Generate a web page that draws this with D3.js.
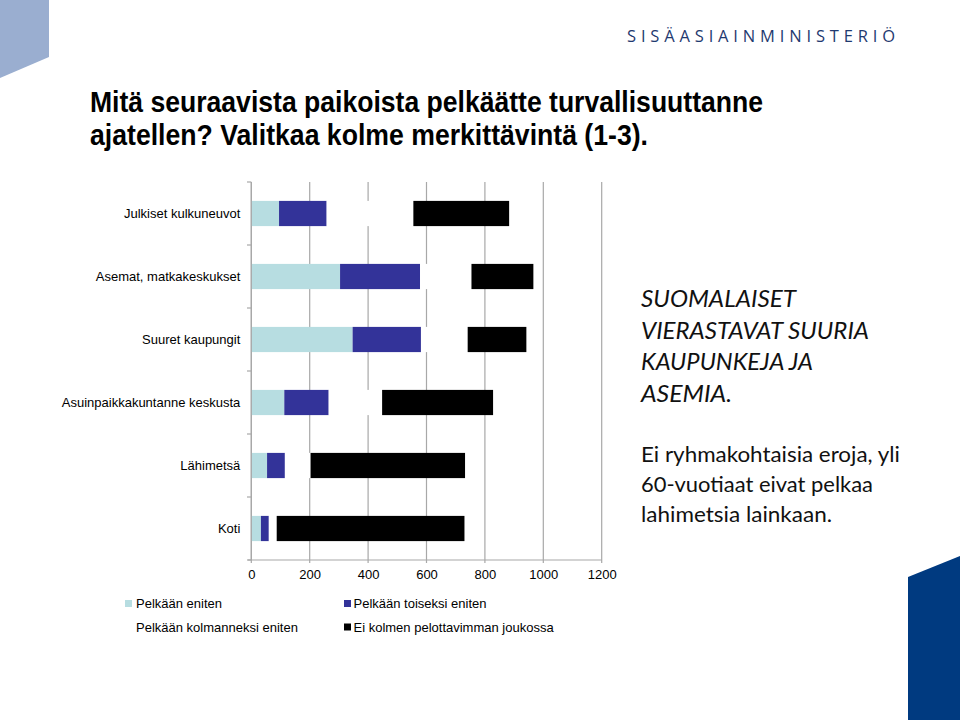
<!DOCTYPE html>
<html><head><meta charset="utf-8">
<script src="https://cdn.jsdelivr.net/npm/d3@7"></script>
<style>body{margin:0;background:#fff}svg{display:block}</style>
</head><body><svg id="c" width="960" height="720"></svg>
<script>
// ---- data ----
const categories = ["Julkiset kulkuneuvot","Asemat, matkakeskukset","Suuret kaupungit","Asuinpaikkakuntanne keskusta","Lähimetsä","Koti"];
const pelkaanEniten      = [95, 304, 347, 113, 54, 33];
const pelkaanToiseksi    = [163, 274, 234, 152, 61, 27];
const pelkaanKolmanneksi = [297, 176, 160, 183, 88, 27];
const eiKolmenJoukossa   = [328, 212, 201, 380, 529, 643];
const xTicks = [0, 200, 400, 600, 800, 1000, 1200];
const seriesNames = ["Pelkään eniten","Pelkään toiseksi eniten","Pelkään kolmanneksi eniten","Ei kolmen pelottavimman joukossa"];
const seriesColors = ["#b7dde1","#333399","#ffffff","#000000"];
const titleLines = ["Mitä seuraavista paikoista pelkäätte turvallisuuttanne","ajatellen? Valitkaa kolme merkittävintä (1-3)."];
const note1 = ["SUOMALAISET","VIERASTAVAT SUURIA","KAUPUNKEJA JA","ASEMIA."];
const note2 = ["Ei ryhmakohtaisia eroja, yli","60-vuotiaat eivat pelkaa","lahimetsia lainkaan."];
const logoText = "SISÄASIAINMINISTERIÖ";

const svg = d3.select("#c");

// decorations
svg.append("path").attr("d","M0,0H49V57L0,78Z").attr("fill","#9aaed0");
svg.append("path").attr("d","M908,577L960,556V720H908Z").attr("fill","#003a80");

// logo
svg.append("text").attr("x",627).attr("y",42).text(logoText)
  .attr("font-family","'Open Sans','DejaVu Sans',sans-serif").attr("font-size",16.5)
  .attr("fill","#1f3a70").attr("textLength",268).attr("lengthAdjust","spacing");

// title
const titleW = [673, 558];
titleLines.forEach((t,i)=>{
  svg.append("text").attr("x",90).attr("y",112+i*33).text(t)
    .attr("font-family","'Liberation Sans Narrow','Arial Narrow','Liberation Sans',Arial,sans-serif")
    .attr("font-weight","bold").attr("font-size",29).attr("fill","#000")
    .attr("textLength",titleW[i]).attr("lengthAdjust","spacingAndGlyphs");
});

// scales
const x = d3.scaleLinear().domain([0,1200]).range([251.3,601.7]);
const y = d3.scaleBand().domain(categories).range([182,560]).paddingInner(0.6).paddingOuter(0.3);

// gridlines
svg.append("g").selectAll("line").data(xTicks).join("line")
  .attr("x1",d=>x(d)).attr("x2",d=>x(d)).attr("y1",182).attr("y2",563)
  .attr("stroke","#a8a8a8").attr("stroke-width",1.2);

// stacked bars
const rows = categories.map((c,i)=>({cat:c, vals:[pelkaanEniten[i],pelkaanToiseksi[i],pelkaanKolmanneksi[i],eiKolmenJoukossa[i]]}));
const stack = d3.stack().keys([0,1,2,3]).value((d,k)=>d.vals[k]);
const layers = stack(rows);
svg.append("g").selectAll("g").data(layers).join("g")
  .attr("fill",(d,i)=>seriesColors[i])
  .selectAll("rect").data(d=>d).join("rect")
  .attr("x",d=>x(d[0])).attr("width",d=>x(d[1])-x(d[0]))
  .attr("y",d=>y(d.data.cat)).attr("height",y.bandwidth());

// axis lines
svg.append("line").attr("x1",251.3).attr("x2",251.3).attr("y1",182).attr("y2",560).attr("stroke","#a8a8a8").attr("stroke-width",1.2);
svg.append("line").attr("x1",248).attr("x2",601.7).attr("y1",560).attr("y2",560).attr("stroke","#a8a8a8").attr("stroke-width",1.2);
const bounds = categories.map(c=>y(c)-y.step()*y.paddingInner()/2).concat([560]);
svg.append("g").selectAll("line").data(bounds).join("line")
  .attr("x1",247).attr("x2",251.3).attr("y1",d=>d).attr("y2",d=>d).attr("stroke","#a8a8a8").attr("stroke-width",1.2);

// x axis labels
const xa = svg.append("g").attr("transform","translate(0,560)")
  .call(d3.axisBottom(x).tickValues(xTicks).tickSize(0).tickPadding(10).tickFormat(d3.format("d")));
xa.select(".domain").remove();
xa.selectAll("text").attr("font-family","'Liberation Sans',Arial,sans-serif").attr("font-size",13).attr("fill","#000");

// y axis labels
const ya = svg.append("g").attr("transform","translate(251.3,0)")
  .call(d3.axisLeft(y).tickSize(0).tickPadding(11));
ya.select(".domain").remove();
ya.selectAll("text").attr("font-family","'Liberation Sans',Arial,sans-serif").attr("font-size",13).attr("fill","#000");

// legend
const legPos = [[125,603.5],[344,603.5],[125,627],[344,627]];
const leg = svg.append("g").selectAll("g").data(seriesNames).join("g")
  .attr("transform",(d,i)=>`translate(${legPos[i][0]},${legPos[i][1]})`);
leg.append("rect").attr("x",0).attr("y",-3.5).attr("width",7).attr("height",7).attr("fill",(d,i)=>seriesColors[i]);
leg.append("text").attr("x",(d,i)=>i%2===0?11:9.5).attr("y",0).attr("dy","0.35em").text(d=>d)
  .attr("font-family","'Liberation Sans',Arial,sans-serif").attr("font-size",13).attr("fill","#000");

// notes
const n1W = [155, 228, 172, 91];
note1.forEach((t,i)=>{
  svg.append("text").attr("x",641).attr("y",307+i*31.6).text(t)
    .attr("font-family","Lato,'Open Sans',sans-serif").attr("font-style","italic").attr("font-size",23)
    .attr("fill","#111").attr("textLength",n1W[i]).attr("lengthAdjust","spacingAndGlyphs");
});
const n2W = [259, 232, 191];
note2.forEach((t,i)=>{
  svg.append("text").attr("x",641).attr("y",461.7+i*30).text(t)
    .attr("font-family","Lato,'Open Sans',sans-serif").attr("font-size",21)
    .attr("fill","#111").attr("textLength",n2W[i]).attr("lengthAdjust","spacingAndGlyphs");
});
</script></body></html>
